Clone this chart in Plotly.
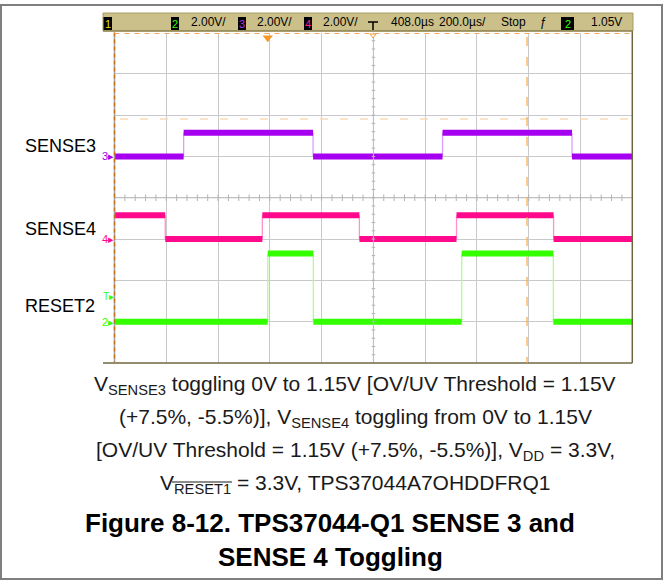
import plotly.graph_objects as go

W, H = 663, 580

# Scope time base: 200 us/div over 10 divisions, trigger point 408 us left of centre
t_left, t_right = -592.0, 1408.0
us_per_div = 200.0
volts_per_div = 2.0
n_ydiv = 8

# Channel data: labels, logic levels (V) and edge times (us)
channel_names = ["SENSE3", "SENSE4", "RESET2"]
channel_numbers = ["3", "4", "2"]
high_levels = [1.15, 1.15, 3.3]
starts_high = [False, True, False]
sense3_edges = [-325, 175, 675, 1175]
sense4_edges = [-396, -21, 354, 729, 1104]
reset2_edges = [0, 176, 749, 1103]
all_edges = [sense3_edges, sense4_edges, reset2_edges]

# Scope settings
ground_offsets = [2.0, -2.0, -6.0]     # channel ground position, screen volts
trigger_level = 1.05                   # V on channel 2
status_items = ["2.00V/", "2.00V/", "2.00V/", "408.0\u00b5s", "200.0\u00b5s/", "Stop", "1.05V"]

# Styling
trace_colors = ["#a600f0", "#ff0a8c", "#33ff00"]
edge_colors = ["#dc9ef8", "#ff92c9", "#aaff8e"]
box_digit_colors = {"1": "#e8e000", "2": "#33ff00", "3": "#b030ff", "4": "#ff2090"}
FONT = "Liberation Sans, Arial, sans-serif"

# Pixel frame of the graticule
gx0, gx1 = 114.5, 632.3
gy0, gy1 = 32.5, 363.0


def px(x):
    return x / W


def py(y):
    return 1 - y / H


fig = go.Figure()

for name, high, start_high, edges, off, col, ecol in zip(
        channel_names, high_levels, starts_high, all_edges, ground_offsets,
        trace_colors, edge_colors):
    times = [t_left] + list(edges) + [t_right]
    level_is_high = start_high
    hx, hy = [], []
    for a, b in zip(times[:-1], times[1:]):
        lvl = (high if level_is_high else 0.0) + off
        hx += [a, b, None]
        hy += [lvl, lvl, None]
        level_is_high = not level_is_high
    ex, ey = [], []
    for e in edges:
        ex += [e, e, None]
        ey += [off, off + high, None]
    fig.add_trace(go.Scatter(x=ex, y=ey, mode="lines", line=dict(color=ecol, width=1.3),
                             showlegend=False, hoverinfo="skip"))
    fig.add_trace(go.Scatter(x=hx, y=hy, mode="lines", name=name,
                             line=dict(color=col, width=6), showlegend=False))

# trigger position marker at top of graticule
fig.add_trace(go.Scatter(x=[0], y=[n_ydiv / 2 * volts_per_div - 0.25], mode="markers",
                         marker=dict(symbol="triangle-down", size=9, color="#f59a28"),
                         cliponaxis=False, showlegend=False, hoverinfo="skip"))

t_mid = (t_left + t_right) / 2
y_half = n_ydiv / 2 * volts_per_div

fig.update_layout(
    width=W, height=H,
    margin=dict(l=0, r=0, t=0, b=0),
    paper_bgcolor="white", plot_bgcolor="white",
    xaxis=dict(domain=[px(gx0), px(gx1)], range=[t_left, t_right],
               tick0=t_left, dtick=us_per_div, showgrid=True, gridcolor="#c9c9c9",
               gridwidth=1, showticklabels=False, zeroline=False, ticks="",
               showline=False, fixedrange=True),
    yaxis=dict(domain=[py(gy1), py(gy0)], range=[-y_half, y_half],
               tick0=-y_half, dtick=volts_per_div, showgrid=True, gridcolor="#c9c9c9",
               gridwidth=1, showticklabels=False, zeroline=False, ticks="",
               showline=False, fixedrange=True),
    showlegend=False,
)

shapes = []
# centre axes with minor ticks (1/5 division)
shapes.append(dict(type="line", xref="x", yref="y", x0=t_left, x1=t_right, y0=0, y1=0,
                   line=dict(color="#bdbdbd", width=1)))
shapes.append(dict(type="line", xref="x", yref="y", x0=t_mid, x1=t_mid, y0=-y_half, y1=y_half,
                   line=dict(color="#bdbdbd", width=1)))
step_t = us_per_div / 5
k = 1
while t_left + k * step_t < t_right:
    t = t_left + k * step_t
    shapes.append(dict(type="line", xref="x", yref="y", x0=t, x1=t, y0=-0.16, y1=0.16,
                       line=dict(color="#b5b5b5", width=1)))
    k += 1
step_v = volts_per_div / 5
k = 1
while -y_half + k * step_v < y_half:
    v = -y_half + k * step_v
    shapes.append(dict(type="line", xref="x", yref="y", x0=t_mid - 7, x1=t_mid + 7, y0=v, y1=v,
                       line=dict(color="#b5b5b5", width=1)))
    k += 1

# graticule frame: right / bottom border, left edge with time cursor
shapes.append(dict(type="line", xref="paper", yref="paper", x0=px(gx1), x1=px(gx1),
                   y0=py(gy0 - 2), y1=py(gy1), line=dict(color="#6e6640", width=1.5)))
shapes.append(dict(type="line", xref="paper", yref="paper", x0=px(103), x1=px(gx1),
                   y0=py(gy1), y1=py(gy1), line=dict(color="#6e6640", width=1.5)))
shapes.append(dict(type="line", xref="paper", yref="paper", x0=px(gx0), x1=px(gx0),
                   y0=py(gy0), y1=py(gy1), line=dict(color="#a0a0a0", width=1.5)))
shapes.append(dict(type="line", xref="paper", yref="paper", x0=px(gx0), x1=px(gx0),
                   y0=py(gy0), y1=py(gy1), line=dict(color="#c8741e", width=1.5, dash="4px,3px")))
# top cursor (dashed) along graticule top
shapes.append(dict(type="line", xref="paper", yref="paper", x0=px(gx0), x1=px(gx1),
                   y0=py(33.5), y1=py(33.5), line=dict(color="#f0a860", width=1.2, dash="5px,5px")))
# light horizontal cursor
shapes.append(dict(type="line", xref="paper", yref="paper", x0=px(120), x1=px(gx1),
                   y0=py(119), y1=py(119), line=dict(color="#f9dcb8", width=1.3, dash="8px,12px")))
# vertical time cursor
shapes.append(dict(type="line", xref="paper", yref="paper", x0=px(527), x1=px(527),
                   y0=py(37), y1=py(gy1), line=dict(color="#f5a84a", width=1.2, dash="9px,11px")))

# status bar
shapes.append(dict(type="rect", xref="paper", yref="paper", x0=px(103), x1=px(633),
                   y0=py(31), y1=py(13), fillcolor="#cbc08a", line=dict(color="#a89c60", width=1)))
shapes.append(dict(type="line", xref="paper", yref="paper", x0=px(103), x1=px(633),
                   y0=py(31), y1=py(31), line=dict(color="#7a6e3c", width=1)))

annotations = []
for digit, x0, x1 in [("1", 103.5, 112), ("2", 171, 179), ("3", 238, 246), ("4", 304, 312),
                      ("2", 561, 574)]:
    shapes.append(dict(type="rect", xref="paper", yref="paper", x0=px(x0), x1=px(x1),
                       y0=py(30), y1=py(17), fillcolor="black", line=dict(width=0)))
    annotations.append(dict(x=px((x0 + x1) / 2), y=py(23.8), xref="paper", yref="paper",
                            text=digit, showarrow=False, xanchor="center", yanchor="middle",
                            font=dict(family=FONT, size=11, color=box_digit_colors[digit])))

for txt, xl in zip(status_items, [189, 255, 321, 389, 437, 499, 589]):
    annotations.append(dict(x=px(xl), y=py(22), xref="paper", yref="paper", text=txt,
                            showarrow=False, xanchor="left", yanchor="middle",
                            font=dict(family=FONT, size=12, color="black")))
annotations.append(dict(x=px(543), y=py(22), xref="paper", yref="paper", text="\u0192",
                        showarrow=False, xanchor="center", yanchor="middle",
                        font=dict(family=FONT, size=12, color="black")))
# delay marker glyph at screen centre
shapes.append(dict(type="line", xref="paper", yref="paper", x0=px(368), x1=px(378),
                   y0=py(22), y1=py(22), line=dict(color="black", width=1.5)))
shapes.append(dict(type="line", xref="paper", yref="paper", x0=px(373), x1=px(373),
                   y0=py(22), y1=py(30), line=dict(color="black", width=1.5)))
shapes.append(dict(type="path", xref="paper", yref="paper",
                   path=f"M {px(370)} {py(34)} L {px(376)} {py(34)} L {px(373)} {py(38)} Z",
                   fillcolor="white", line=dict(color="#f0a040", width=1)))

# channel ground markers on left edge
for num, off, col in zip(channel_numbers, ground_offsets, trace_colors):
    yy = gy0 + (y_half - off) / volts_per_div * (gy1 - gy0) / n_ydiv
    annotations.append(dict(x=px(gx0 + 1), y=py(yy), xref="paper", yref="paper",
                            text=num + "\u25b8", showarrow=False, xanchor="right", yanchor="middle",
                            font=dict(family=FONT, size=11, color=col)))
yy_t = gy0 + (y_half - (ground_offsets[2] + trigger_level)) / volts_per_div * (gy1 - gy0) / n_ydiv
annotations.append(dict(x=px(gx0 + 1), y=py(yy_t - 3), xref="paper", yref="paper",
                        text="T\u25b8", showarrow=False, xanchor="right", yanchor="middle",
                        font=dict(family=FONT, size=10, color=trace_colors[2])))

# channel names
for name, yc in zip(channel_names, [146, 229, 306]):
    annotations.append(dict(x=px(23), y=py(yc), xref="paper", yref="paper", text=name,
                            showarrow=False, xanchor="left", yanchor="middle",
                            font=dict(family=FONT, size=18, color="black")))

caption = [
    "V<sub>SENSE3</sub> toggling 0V to 1.15V [OV/UV Threshold = 1.15V",
    "(+7.5%, -5.5%)], V<sub>SENSE4</sub> toggling from 0V to 1.15V",
    "[OV/UV Threshold = 1.15V (+7.5%, -5.5%)], V<sub>DD</sub> = 3.3V,",
    "V<sub>RESET1</sub> = 3.3V, TPS37044A7OHDDFRQ1",
]
for line, yc in zip(caption, [385, 418, 451, 484]):
    annotations.append(dict(x=px(355), y=py(yc), xref="paper", yref="paper", text=line,
                            showarrow=False, xanchor="center", yanchor="middle",
                            font=dict(family=FONT, size=21, color="#1a1a1a")))
# overline on RESET1
shapes.append(dict(type="line", xref="paper", yref="paper", x0=px(172), x1=px(232),
                   y0=py(482), y1=py(482), line=dict(color="#1a1a1a", width=1.2)))

for line, yc in zip(["<b>Figure 8-12. TPS37044-Q1 SENSE 3 and</b>", "<b>SENSE 4 Toggling</b>"],
                    [523, 557]):
    annotations.append(dict(x=px(330), y=py(yc), xref="paper", yref="paper", text=line,
                            showarrow=False, xanchor="center", yanchor="middle",
                            font=dict(family=FONT, size=26, color="black")))

# outer figure border
shapes.append(dict(type="rect", xref="paper", yref="paper", x0=px(1), x1=px(662),
                   y0=py(579), y1=py(5), line=dict(color="#7f7f7f", width=2)))

fig.update_layout(shapes=shapes, annotations=annotations)
fig.write_html("out.html")
